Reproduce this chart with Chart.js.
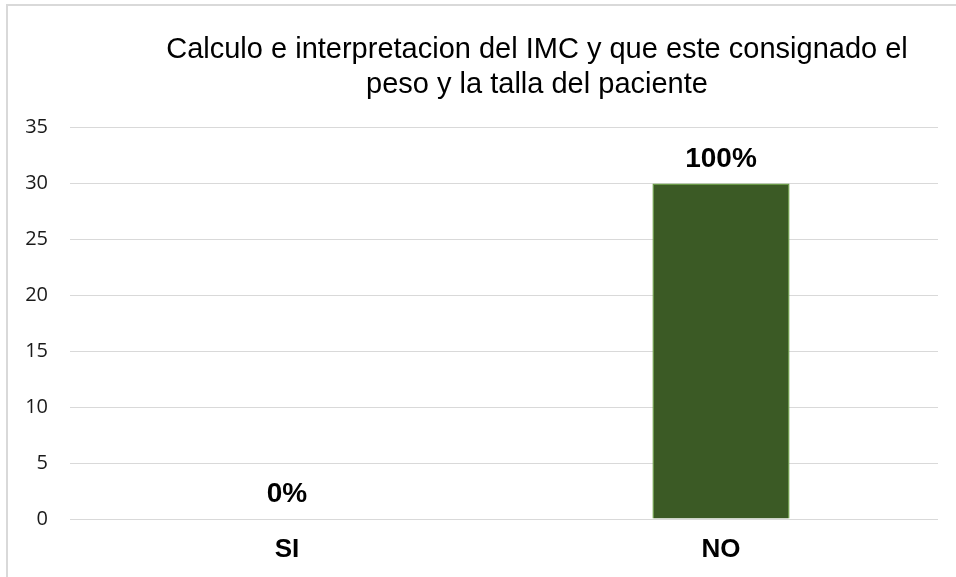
<!DOCTYPE html>
<html>
<head>
<meta charset="utf-8">
<script src="https://cdn.jsdelivr.net/npm/chart.js@4/dist/chart.umd.min.js"></script>
<style>
  html, body { margin: 0; padding: 0; background: #fff; overflow: hidden; }
  #wrap { position: relative; width: 956px; height: 577px; overflow: hidden; }
  #frame { position: absolute; left: 6px; top: 4px; width: 1200px; height: 1200px;
           border: 2px solid #d9d9d9; box-sizing: border-box; pointer-events: none; }
  canvas { position: absolute; left: 0; top: 0; }
</style>
</head>
<body>
<div id="wrap">
  <canvas id="c" width="956" height="577"></canvas>
  <div id="frame"></div>
</div>
<script>
const categories = ['SI', 'NO'];
const values = [0, 30];
const valueLabels = ['0%', '100%'];
const titleLines = ['Calculo e interpretacion del IMC y que este consignado el', 'peso y la talla del paciente'];

const valueLabelPlugin = {
  id: 'valueLabels',
  afterDatasetsDraw(chart) {
    const ctx = chart.ctx;
    const meta = chart.getDatasetMeta(0);
    ctx.save();
    ctx.font = 'bold 28px "Liberation Sans", Arial, sans-serif';
    ctx.fillStyle = '#000';
    ctx.textAlign = 'center';
    ctx.textBaseline = 'alphabetic';
    meta.data.forEach((bar, i) => {
      ctx.fillText(valueLabels[i], bar.x, bar.y - 17);
    });
    ctx.restore();
  }
};

const titleShift = {
  id: 'titleShift',
  afterLayout(chart) {
    if (chart.titleBlock) {
      const center = 537;
      chart.titleBlock.left = 2 * center - chart.titleBlock.right;
    }
  }
};

new Chart(document.getElementById('c'), {
  type: 'bar',
  data: {
    labels: categories,
    datasets: [{
      data: values,
      backgroundColor: '#3B5A25',
      borderColor: '#6A9A48',
      borderWidth: 1.5,
      barPercentage: 0.316,
      categoryPercentage: 1
    }]
  },
  options: {
    responsive: false,
    devicePixelRatio: 1,
    animation: false,
    layout: { padding: { left: 0, right: 18, top: 0, bottom: 0 } },
    plugins: {
      legend: { display: false },
      tooltip: { enabled: false },
      title: {
        display: true,
        text: titleLines,
        color: '#000',
        font: { family: '"Liberation Sans", Arial, sans-serif', size: 29, weight: 'normal', lineHeight: 1.2 },
        padding: { top: 33, bottom: 25 }
      }
    },
    scales: {
      x: {
        grid: { display: false, drawTicks: false },
        border: { display: false },
        ticks: {
          color: '#000',
          padding: 15,
          font: { family: '"Liberation Sans", Arial, sans-serif', size: 26, weight: 'bold' }
        },
        afterFit(scale) { scale.height = 58; }
      },
      y: {
        min: 0,
        max: 35,
        grid: { color: '#d9d9d9', lineWidth: 1, drawTicks: false },
        border: { display: false },
        ticks: {
          stepSize: 5,
          color: '#1a1a1a',
          padding: 22,
          font: { family: '"Open Sans", sans-serif', size: 20 }
        },
        afterFit(scale) { scale.width = 70; }
      }
    }
  },
  plugins: [valueLabelPlugin, titleShift]
});
</script>
</body>
</html>
